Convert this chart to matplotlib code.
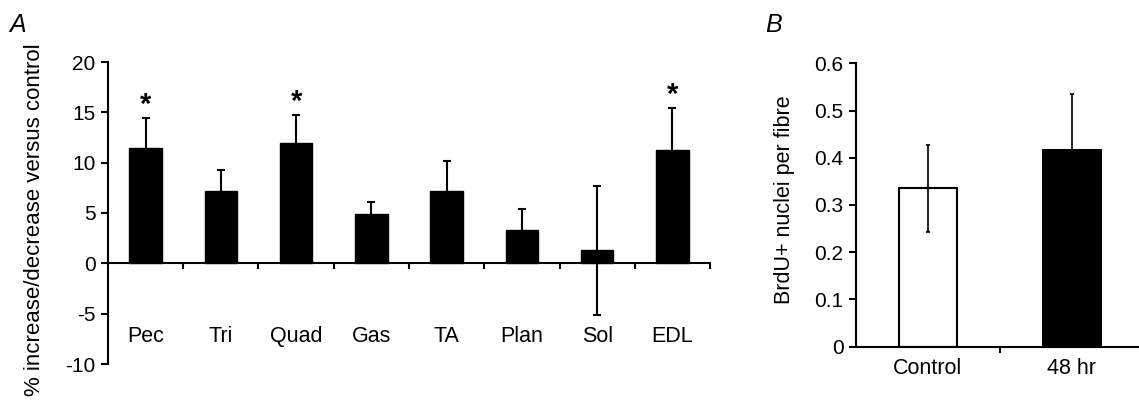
import numpy as np
import matplotlib.pyplot as plt

plt.rcParams["font.family"] = ["Liberation Sans", "DejaVu Sans"]

# --- Panel A data ---
muscles = ["Pec", "Tri", "Quad", "Gas", "TA", "Plan", "Sol", "EDL"]
pct_change = [11.45, 7.2, 11.95, 4.9, 7.2, 3.35, 1.3, 11.3]
pct_err = [3.0, 2.05, 2.75, 1.15, 2.95, 2.05, 6.4, 4.1]
significant = [True, False, True, False, False, False, False, True]

# --- Panel B data ---
groups = ["Control", "48 hr"]
brdu = [0.335, 0.417]
brdu_err = [0.092, 0.117]
brdu_colors = ["white", "black"]

fig = plt.figure(figsize=(11.39, 4.0), dpi=100)

# ---------------- Panel A ----------------
axA = fig.add_axes([0.0948, 0.09, 0.5286, 0.755])
x = np.arange(len(muscles))
axA.bar(x, pct_change, width=0.43, color="black", edgecolor="black", zorder=2)
axA.errorbar(x, pct_change, yerr=pct_err, fmt="none", ecolor="black",
             elinewidth=1.5, capsize=3, capthick=1.5, zorder=3)

for xi, v, e, s in zip(x, pct_change, pct_err, significant):
    if s:
        axA.text(xi, v + e - 0.1, "*", ha="center", va="bottom",
                 fontsize=21, fontweight="bold")

for xi, name in zip(x, muscles):
    axA.text(xi, -7.3, name, ha="center", va="center", fontsize=15.5)

axA.set_xlim(-0.5, len(muscles) - 0.5)
axA.set_ylim(-10, 20)
axA.set_yticks([-10, -5, 0, 5, 10, 15, 20])
axA.set_yticklabels(["-10", "-5", "0", "5", "10", "15", "20"])
axA.set_xticks(np.arange(len(muscles)) + 0.5)
axA.set_xticklabels([])
axA.spines["top"].set_visible(False)
axA.spines["right"].set_visible(False)
axA.spines["bottom"].set_position(("data", 0))
axA.spines["left"].set_linewidth(1.5)
axA.spines["bottom"].set_linewidth(1.5)
axA.tick_params(axis="y", direction="out", length=5, width=1.5, labelsize=15, pad=4)
axA.tick_params(axis="x", direction="out", length=4, width=1.5)
axA.set_ylabel("% increase/decrease versus control", fontsize=16)
axA.yaxis.set_label_coords(-0.105, 0.477)
fig.text(0.008, 0.937, "A", fontsize=18, fontstyle="italic", ha="left", va="center")

# ---------------- Panel B ----------------
axB = fig.add_axes([0.7515, 0.1333, 0.2529, 0.7085])
xb = np.arange(len(groups))
axB.bar(xb, brdu, width=0.40, color=brdu_colors, edgecolor="black",
        linewidth=1.5, zorder=2)
axB.errorbar(xb, brdu, yerr=brdu_err, fmt="none", ecolor="black",
             elinewidth=1.2, capsize=1.5, capthick=1.2, zorder=3)
axB.set_xlim(-0.5, len(groups) - 0.5)
axB.set_ylim(0, 0.6)
axB.set_yticks([0, 0.1, 0.2, 0.3, 0.4, 0.5, 0.6])
axB.set_yticklabels(["0", "0.1", "0.2", "0.3", "0.4", "0.5", "0.6"])
axB.set_xticks([0.5])
axB.set_xticklabels([""])
for xi, g in zip(xb, groups):
    axB.text(xi, -0.047, g, ha="center", va="center", fontsize=15.5)
axB.spines["top"].set_visible(False)
axB.spines["right"].set_visible(False)
axB.spines["left"].set_linewidth(1.5)
axB.spines["bottom"].set_linewidth(1.5)
axB.tick_params(axis="y", direction="out", length=5, width=1.5, labelsize=15, pad=4)
axB.tick_params(axis="x", direction="out", length=4, width=1.5)
axB.set_ylabel("BrdU+ nuclei per fibre", fontsize=15.5)
axB.yaxis.set_label_coords(-0.212, 0.52)
fig.text(0.672, 0.937, "B", fontsize=18, fontstyle="italic", ha="left", va="center")

fig.savefig("out.png", dpi=100)
